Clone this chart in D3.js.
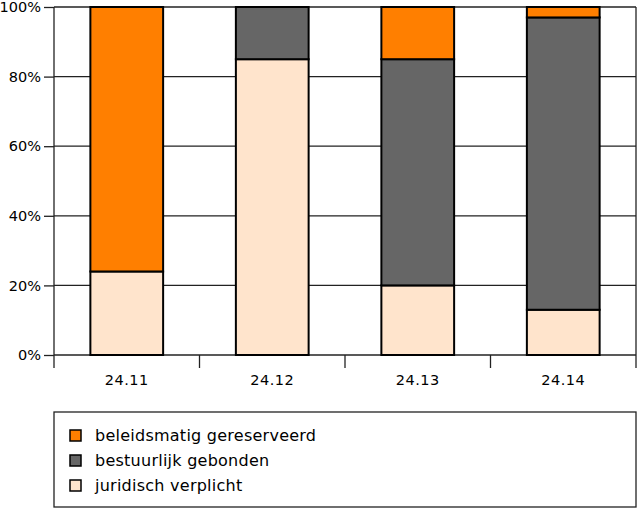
<!DOCTYPE html>
<html>
<head>
<meta charset="utf-8">
<script src="https://cdn.jsdelivr.net/npm/d3@7"></script>
<style>
  body { margin: 0; background: #fff; }
  text { font-family: "DejaVu Sans", sans-serif; fill: #000; }
</style>
</head>
<body>
<svg id="chart" width="638" height="510"></svg>
<script>
const categories = ["24.11", "24.12", "24.13", "24.14"];
const series = ["juridisch verplicht", "bestuurlijk gebonden", "beleidsmatig gereserveerd"];
const juridisch = [24, 85, 20, 13];
const bestuurlijk = [0, 15, 65, 84];
const beleidsmatig = [76, 0, 15, 3];
const yTicks = [0, 20, 40, 60, 80, 100];
const colors = ["#ffe4cc", "#666666", "#ff7f00"];

const svg = d3.select("#chart");
const margin = {left: 54, right: 2, top: 7, bottom: 155};
const width = 638 - margin.left - margin.right;
const height = 510 - margin.top - margin.bottom;

const g = svg.append("g").attr("transform", `translate(${margin.left},${margin.top})`);

const x = d3.scaleBand().domain(categories).range([0, width]).paddingInner(0).paddingOuter(0);
const y = d3.scaleLinear().domain([0, 100]).range([height, 0]);

// gridlines
g.selectAll("line.grid")
  .data(yTicks)
  .enter().append("line")
  .attr("class", "grid")
  .attr("x1", 0).attr("x2", width)
  .attr("y1", d => y(d)).attr("y2", d => y(d))
  .attr("stroke", "#222").attr("stroke-width", 1.3);

// frame verticals
g.append("line").attr("x1", 0).attr("x2", 0).attr("y1", 0).attr("y2", height + 13)
  .attr("stroke", "#222").attr("stroke-width", 1.3);
g.append("line").attr("x1", width).attr("x2", width).attr("y1", 0).attr("y2", height + 13)
  .attr("stroke", "#222").attr("stroke-width", 1.3);

// y axis
const yAxis = d3.axisLeft(y).tickValues(yTicks).tickFormat(d => d + "%").tickSize(10).tickPadding(3);
const ya = g.append("g").call(yAxis);
ya.select(".domain").remove();
ya.selectAll(".tick line").attr("stroke", "#222").attr("stroke-width", 1.3);
ya.selectAll("text").style("font-size", "14.5px").style("font-family", "DejaVu Sans");

// x category separators ticks
g.selectAll("line.xtick")
  .data(categories.slice(1))
  .enter().append("line")
  .attr("x1", d => x(d)).attr("x2", d => x(d))
  .attr("y1", height).attr("y2", height + 13)
  .attr("stroke", "#222").attr("stroke-width", 1.3);

g.selectAll("text.xlab")
  .data(categories)
  .enter().append("text")
  .attr("x", d => x(d) + x.bandwidth() / 2)
  .attr("y", height + 30)
  .attr("text-anchor", "middle")
  .style("font-size", "14.5px")
  .style("letter-spacing", "0.5px")
  .text(d => d);

// stacked bars
const rows = categories.map((c, i) => ({
  cat: c,
  "juridisch verplicht": juridisch[i],
  "bestuurlijk gebonden": bestuurlijk[i],
  "beleidsmatig gereserveerd": beleidsmatig[i]
}));
const stack = d3.stack().keys(series)(rows);
const barW = x.bandwidth() * 0.5;

stack.forEach((layer, li) => {
  g.selectAll("rect.s" + li)
    .data(layer.filter(d => d[1] - d[0] > 0))
    .enter().append("rect")
    .attr("x", d => x(d.data.cat) + (x.bandwidth() - barW) / 2)
    .attr("y", d => y(d[1]))
    .attr("width", barW)
    .attr("height", d => y(d[0]) - y(d[1]))
    .attr("fill", colors[li])
    .attr("stroke", "#000").attr("stroke-width", 2);
});

// legend
const lg = svg.append("g").attr("transform", "translate(54,412)");
lg.append("rect").attr("x", 0).attr("y", 0).attr("width", 582).attr("height", 95)
  .attr("fill", "#fff").attr("stroke", "#222").attr("stroke-width", 1.3);

const legendOrder = [2, 1, 0];
legendOrder.forEach((si, i) => {
  const yy = 24 + i * 25;
  lg.append("rect").attr("x", 16).attr("y", yy - 6).attr("width", 11).attr("height", 11)
    .attr("fill", colors[si]).attr("stroke", "#000").attr("stroke-width", 1.5);
  lg.append("text").attr("x", 41).attr("y", yy + 5)
    .style("font-size", "16px").style("letter-spacing", "0.25px").text(series[si]);
});
</script>
</body>
</html>
